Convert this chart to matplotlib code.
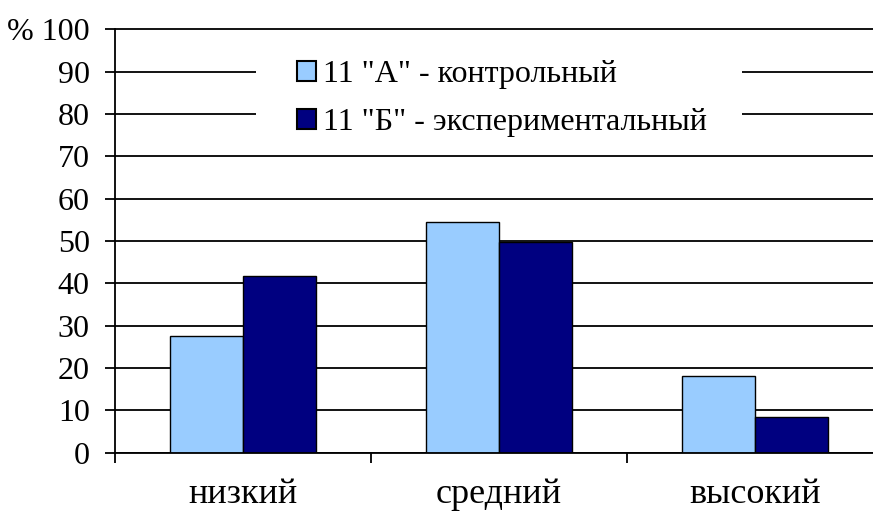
import matplotlib
matplotlib.use("Agg")
import matplotlib.pyplot as plt
from matplotlib.patches import Rectangle

plt.rcParams['font.family'] = ['Liberation Serif', 'DejaVu Serif']

# levels and percentages per class
levels = ["низкий", "средний", "высокий"]
class_a = [27.5, 54.5, 18.0]
class_b = [41.7, 49.8, 8.5]
series_names = ['11 "А" - контрольный', '11 "Б" - экспериментальный']
y_ticks = [0, 10, 20, 30, 40, 50, 60, 70, 80, 90, 100]
y_labels = ["0", "10", "20", "30", "40", "50", "60", "70", "80", "90", "% 100"]

W, H = 873, 515
fig = plt.figure(figsize=(W / 100, H / 100), dpi=100)
ax_left, ax_right = 115, 883
ax_top, ax_bottom = 27.2, 452.7
ax = fig.add_axes([ax_left / W, 1 - ax_bottom / H,
                   (ax_right - ax_left) / W, (ax_bottom - ax_top) / H])

fs = 23
bar_w = 0.285
x = range(len(levels))
ax.bar([i - bar_w / 2 for i in x], class_a, width=bar_w, color="#99CCFF",
       edgecolor="black", linewidth=1.0, label=series_names[0], zorder=2)
ax.bar([i + bar_w / 2 for i in x], class_b, width=bar_w, color="#000080",
       edgecolor="black", linewidth=1.0, label=series_names[1], zorder=2)

ax.set_xlim(-0.5, 2.5)
ax.set_ylim(0, 100.5)

# horizontal gridlines
ax.set_axisbelow(True)
ax.yaxis.grid(True, color="black", linewidth=1.3)

for s in ["top", "right"]:
    ax.spines[s].set_visible(False)
ax.spines["left"].set_bounds(0, 100)
ax.spines["left"].set_linewidth(1.3)
ax.spines["bottom"].set_linewidth(1.3)

ax.set_yticks(y_ticks)
ax.set_yticklabels(y_labels, fontsize=fs)
ax.tick_params(axis="y", direction="out", length=7.2, width=1.3, pad=11)

# category separators as major ticks, names on minor ticks
ax.set_xticks([-0.5, 0.5, 1.5, 2.5])
ax.set_xticklabels([])
ax.set_xticks(list(x), minor=True)
ax.set_xticklabels(levels, minor=True, fontsize=26)
ax.tick_params(axis="x", which="major", direction="out", length=7.2, width=1.3)
ax.tick_params(axis="x", which="minor", length=0, pad=18)

# white panel under the legend
ax.add_patch(Rectangle((0.1836, 0.727), 0.6328, 0.236, transform=ax.transAxes,
                       facecolor="white", edgecolor="none", zorder=1))

leg = ax.legend(loc="upper left", bbox_to_anchor=(297 / W, 1 - 60 / H),
                bbox_transform=fig.transFigure, frameon=False, fontsize=fs,
                borderpad=0, borderaxespad=0, handlelength=0.6,
                handleheight=0.6, handletextpad=0.2, labelspacing=0.6)
for h in leg.legend_handles:
    h.set_linewidth(1.5)

fig.savefig("out.png", dpi=100)
